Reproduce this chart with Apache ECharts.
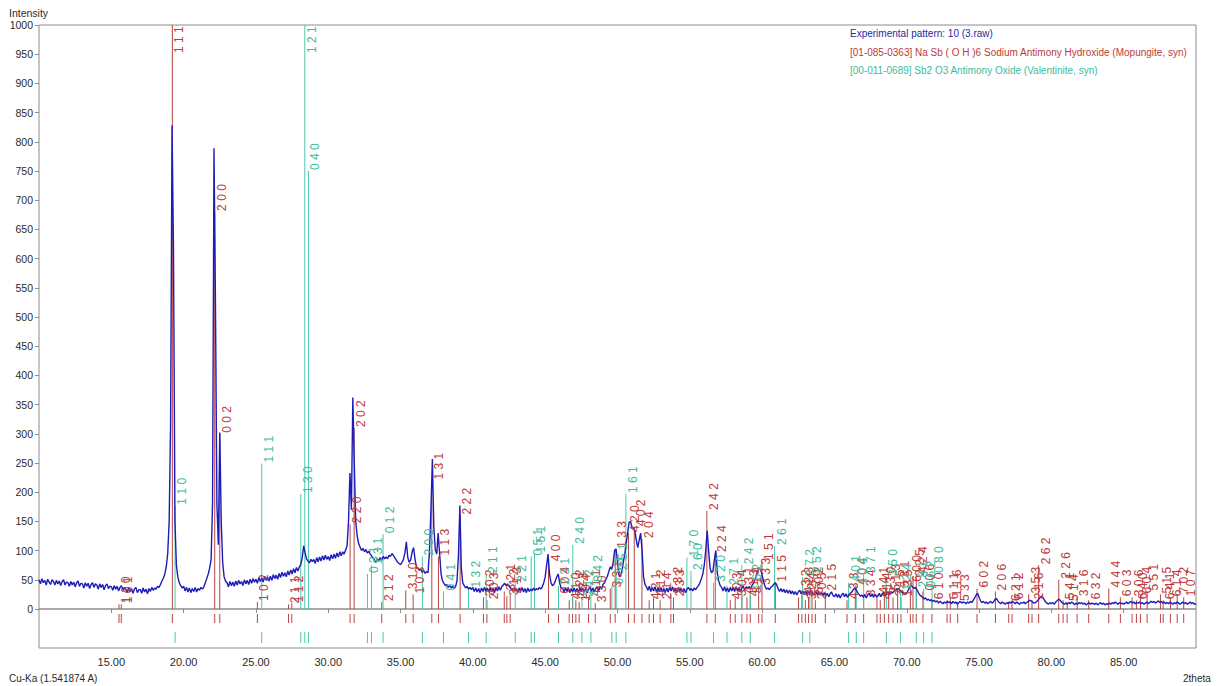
<!DOCTYPE html>
<html>
<head>
<meta charset="utf-8">
<title>XRD pattern</title>
<script src="https://cdn.jsdelivr.net/npm/echarts@6/dist/echarts.min.js"></script>
<style>
  html, body { margin: 0; padding: 0; background: #ffffff; }
  #chart { width: 1221px; height: 686px; }
</style>
</head>
<body>
<div id="chart"></div>
<script>
// Measured scan: 2theta from 10.0 to 90.0 in 0.1 degree steps
const scanStart = 10.0;
const scanStep = 0.1;
const intensity = [
  50,43,52,45,49,41,51,46,42,50,
  47,41,49,43,48,40,47,50,41,46,
  45,39,47,41,46,38,45,48,39,44,
  43,36,45,39,44,35,42,45,37,43,
  41,34,43,37,42,33,40,43,35,39,
  38,32,40,34,39,31,37,40,32,37,
  34,28,36,30,35,27,34,37,28,33,
  33,27,36,29,34,26,35,30,37,32,
  36,34,39,37,42,48,53,60,72,95,
  150,320,828,612,150,75,55,45,40,36,
  39,31,37,29,36,28,35,30,37,29,
  35,32,37,34,38,45,52,60,70,85,
  180,789,528,180,110,302,150,80,55,48,
  45,38,47,40,46,39,48,41,49,43,
  47,40,50,43,49,42,51,44,52,46,
  51,44,54,47,53,46,56,49,55,48,
  56,49,59,52,58,51,61,54,63,56,
  62,55,65,58,67,60,69,62,71,65,
  72,76,88,108,96,86,82,79,85,81,
  85,78,88,81,89,82,91,84,92,85,
  90,83,93,86,94,87,96,89,98,91,
  98,94,101,108,150,233,170,362,250,150,
  125,112,106,100,104,98,102,96,99,94,
  91,87,84,80,86,82,88,84,90,86,
  89,86,92,90,95,92,88,84,80,78,
  76,80,85,96,115,88,80,84,98,105,
  85,72,70,66,68,63,66,61,64,62,
  100,170,257,140,102,94,130,95,60,48,
  44,40,42,37,40,36,39,35,38,48,
  90,177,70,45,40,36,39,34,37,33,
  37,30,36,29,35,28,36,30,37,31,
  36,29,37,30,35,28,37,31,38,32,
  38,41,44,40,43,39,36,33,35,31,
  35,28,36,30,37,29,35,28,36,30,
  34,31,36,32,35,33,37,34,38,45,
  55,75,94,60,45,40,42,48,55,60,
  45,36,35,29,36,30,37,28,35,29,
  36,29,35,28,37,30,36,29,35,28,
  34,38,30,36,29,35,38,31,39,34,
  42,45,50,56,64,72,68,80,100,103,
  80,58,55,65,80,94,112,130,148,150,
  140,138,134,118,105,118,130,100,55,42,
  38,32,39,30,37,31,38,29,36,30,
  37,30,35,28,36,29,37,31,38,30,
  35,28,37,30,36,29,35,28,34,37,
  32,35,31,36,33,37,40,45,52,60,
  75,100,134,100,70,62,65,85,100,62,
  48,40,37,31,38,30,36,29,37,31,
  37,30,38,31,36,29,37,39,32,38,
  35,38,35,40,44,50,58,65,70,68,
  58,47,39,34,36,33,37,39,42,45,
  42,35,30,35,29,34,28,33,27,32,
  26,31,25,30,24,29,32,26,31,25,
  30,25,31,26,32,27,24,30,25,29,
  24,29,23,28,22,27,21,26,29,23,
  21,26,20,25,19,24,27,21,26,20,
  24,27,29,33,36,33,28,25,22,24,
  20,25,19,24,27,21,26,20,25,21,
  22,27,21,26,28,23,27,29,24,30,
  27,30,32,34,35,33,30,28,26,25,
  27,32,37,40,38,35,37,33,28,24,
  22,20,17,19,15,17,14,16,13,15,
  12,14,10,13,11,9,12,10,13,11,
  12,9,13,10,12,8,11,13,10,12,
  11,9,12,10,13,11,15,19,24,27,
  20,14,11,13,10,12,9,11,13,10,
  12,16,18,14,11,9,12,10,8,11,
  9,12,10,13,11,9,12,10,8,11,
  10,12,9,11,13,15,14,12,10,11,
  13,16,19,22,20,16,12,10,8,11,
  9,11,8,12,14,17,15,12,10,8,
  10,8,11,9,12,10,7,10,8,11,
  9,11,8,10,7,9,11,8,10,9,
  8,10,7,9,11,8,10,7,9,8,
  10,8,11,9,12,10,8,11,9,10,
  8,10,12,9,11,13,10,12,9,11,
  10,12,9,11,8,10,12,9,11,13,
  11,13,10,12,14,11,13,10,12,9,
  11,9,12,10,8,11,9,12,10,8,
  10,12,9,11,8,10,12,9,11,8,
  9
];

// [01-085-0363] Na Sb(OH)6, Mopungite: peak positions, scaled intensities, hkl
const mopungitePos = [
  15.53,15.69,19.22,22.15,22.50,25.10,27.25,27.48,31.51,31.79,
  33.70,35.36,35.87,37.16,37.62,39.12,40.73,40.97,42.17,42.35,
  42.58,45.23,45.92,46.66,46.89,47.12,47.35,48.00,48.46,49.50,
  49.84,50.76,51.16,51.69,52.19,52.49,52.95,53.69,53.87,56.18,
  56.76,57.80,58.14,58.60,58.95,59.18,59.76,59.99,60.91,62.52,
  62.75,62.99,63.21,63.45,63.68,64.37,65.87,66.44,67.02,67.94,
  68.17,68.45,68.75,69.05,69.37,69.60,70.25,70.43,70.66,71.12,
  71.74,72.79,73.01,73.52,74.86,76.13,77.05,77.28,78.43,78.66,
  79.12,80.51,80.81,81.09,81.78,82.58,83.97,84.77,85.58,85.88,
  86.16,86.62,87.54,87.73,88.23,88.70,89.15
];
const mopungiteInt = [
  8,8,1000,680,300,12,8,10,145,310,
  12,32,25,220,90,160,20,15,30,22,
  25,80,25,15,20,15,12,20,10,35,
  103,130,140,120,15,20,15,25,20,168,
  96,15,20,25,20,25,40,82,45,20,
  25,15,20,25,15,30,15,40,20,25,
  15,25,30,20,35,20,45,55,60,30,
  15,15,20,12,35,30,12,15,25,15,
  75,50,15,12,20,15,35,20,20,15,
  25,30,25,15,20,25,20
];
const mopungiteHkl = [
  '110','101','111','200','002','102','211','112','220','202',
  '212','310','103','131','113','222','302','203','321','312',
  '213','400','004','410','322','223','104','411','330','331',
  '133','420','402','204','421','412','214','332','233','242',
  '224','403','304','431','413','314','333','151','115','432',
  '423','324','520','502','205','215','433','404','334','441',
  '414','530','513','315','531','135','600','225','424','006',
  '610','611','116','533','602','206','621','612','353','216',
  '262','226','541','514','316','632','444','603','306','640',
  '604','551','515','641','614','702','107'
];

// [00-011-0689] Sb2 O3, Valentinite: peak positions, scaled intensities, hkl
const valentinitePos = [
  19.41,25.40,28.10,28.38,28.63,32.71,32.99,33.79,36.51,37.97,
  39.70,40.92,42.93,44.03,44.26,45.92,46.91,47.54,48.16,49.61,
  49.91,50.58,54.80,55.08,56.64,57.57,58.60,59.18,60.86,62.80,
  63.30,65.98,66.51,67.02,68.59,69.56,70.66,71.17,71.75
];
const valentiniteInt = [
  177,249,197,1000,750,60,75,128,90,30,
  35,60,45,90,95,40,110,20,45,40,
  65,197,88,65,45,40,75,30,108,55,
  60,45,40,60,55,30,35,35,60
];
const valentiniteHkl = [
  '110','111','130','121','040','031','131','012','200','041',
  '132','211','221','051','151','231','240','212','042','033',
  '251','161','170','260','320','271','242','162','261','272',
  '252','401','104','371','350','124','281','062','080'
];

// 2theta tick values shown under the frame
const twoThetaTicks = [15, 20, 25, 30, 35, 40, 45, 50, 55, 60, 65, 70, 75, 80, 85];

const COLORS = {
  pattern: '#1c1cb8',
  mop: '#b84444',
  mopText: '#c03a3a',
  val: '#48c8ac',
  valText: '#3cbc9c',
  frame: '#8c8c8c',
  axisText: '#2a2a2a'
};
const FONT = '"Liberation Sans", "DejaVu Sans", Arial, sans-serif';

const patternData = intensity.map((v, i) => [+(scanStart + i * scanStep).toFixed(2), v]);
const mopData = mopungitePos.map((x, i) => [x, mopungiteInt[i]]);
const valData = valentinitePos.map((x, i) => [x, valentiniteInt[i]]);

// vertical reference stick from the baseline to the tabulated intensity
function stickItem(color) {
  return function (params, api) {
    const base = api.coord([api.value(0), 0]);
    const tip = api.coord([api.value(0), api.value(1)]);
    return {
      type: 'line',
      shape: { x1: base[0], y1: base[1], x2: tip[0], y2: tip[1] },
      style: { stroke: color, lineWidth: 1 }
    };
  };
}

// hkl label, rotated, sitting just right of the stick tip (kept inside the frame)
function hklItem(color, hkl) {
  return function (params, api) {
    const tip = api.coord([api.value(0), api.value(1)]);
    const frameTop = params.coordSys.y;
    const y = Math.max(tip[1] - 1, frameTop + 28);
    return {
      type: 'text',
      x: tip[0] + 7,
      y: y,
      rotation: Math.PI / 2,
      style: {
        text: hkl[params.dataIndex].split('').join(' '),
        fill: color,
        font: '12px ' + FONT,
        textAlign: 'left',
        align: 'left',
        textVerticalAlign: 'middle',
        verticalAlign: 'middle'
      }
    };
  };
}

// short marker in the lower strip (rows given in strip units, 0 = top)
function stripItem(color, r0, r1) {
  return function (params, api) {
    const a = api.coord([api.value(0), r0]);
    const b = api.coord([api.value(0), r1]);
    return {
      type: 'line',
      shape: { x1: a[0], y1: a[1], x2: b[0], y2: b[1] },
      style: { stroke: color, lineWidth: 1 }
    };
  };
}

const chart = echarts.init(document.getElementById('chart'), null, { renderer: 'svg' });

chart.setOption({
  animation: false,
  backgroundColor: '#ffffff',
  grid: [
    { left: 39, right: 25, top: 25, height: 584, show: true, borderColor: COLORS.frame, borderWidth: 1, backgroundColor: 'transparent' },
    { left: 39, right: 25, top: 609, height: 39, show: true, borderColor: COLORS.frame, borderWidth: 1, backgroundColor: 'transparent' }
  ],
  xAxis: [
    { gridIndex: 0, type: 'value', min: 10, max: 90, show: false },
    {
      gridIndex: 1, type: 'value', min: 10, max: 90, interval: 5,
      axisLine: { show: false },
      axisTick: { show: true, inside: false, length: 4, lineStyle: { color: COLORS.frame }, customValues: twoThetaTicks },
      axisLabel: {
        show: true, margin: 8, fontSize: 11, fontFamily: FONT, color: COLORS.axisText,
        customValues: twoThetaTicks,
        formatter: v => v.toFixed(2)
      },
      splitLine: { show: false }
    }
  ],
  yAxis: [
    {
      gridIndex: 0, type: 'value', min: 0, max: 1000, interval: 50,
      axisLine: { show: false },
      axisTick: { show: true, inside: false, length: 4, lineStyle: { color: COLORS.frame } },
      axisLabel: { show: true, margin: 6, fontSize: 10.5, fontFamily: FONT, color: COLORS.axisText, formatter: v => String(v) },
      splitLine: { show: false }
    },
    { gridIndex: 1, type: 'value', min: 0, max: 39, inverse: true, show: false }
  ],
  graphic: [
    { type: 'text', left: 9, top: 7, style: { text: 'Intensity', font: '10.5px ' + FONT, fill: COLORS.axisText } },
    { type: 'text', left: 850, top: 28, style: { text: 'Experimental pattern: 10 (3.raw)', font: '10px ' + FONT, fill: '#2a2aa0' } },
    { type: 'text', left: 850, top: 47, style: { text: '[01-085-0363] Na Sb ( O H )6 Sodium Antimony Hydroxide (Mopungite, syn)', font: '10px ' + FONT, fill: COLORS.mopText } },
    { type: 'text', left: 850, top: 65, style: { text: '[00-011-0689] Sb2 O3 Antimony Oxide (Valentinite, syn)', font: '10px ' + FONT, fill: COLORS.valText } },
    { type: 'text', left: 9, top: 673, style: { text: 'Cu-Ka (1.541874 A)', font: '10px ' + FONT, fill: COLORS.axisText } },
    { type: 'text', left: 1183, top: 673, style: { text: '2theta', font: '10px ' + FONT, fill: COLORS.axisText } }
  ],
  series: [
    { name: 'Mopungite sticks', type: 'custom', xAxisIndex: 0, yAxisIndex: 0, z: 2, renderItem: stickItem(COLORS.mop), data: mopData, encode: { x: 0, y: 1 } },
    { name: 'Valentinite sticks', type: 'custom', xAxisIndex: 0, yAxisIndex: 0, z: 2, renderItem: stickItem(COLORS.val), data: valData, encode: { x: 0, y: 1 } },
    {
      name: 'Experimental pattern', type: 'line', xAxisIndex: 0, yAxisIndex: 0, z: 3,
      data: patternData, showSymbol: false, symbol: 'none',
      lineStyle: { color: COLORS.pattern, width: 1.4 }
    },
    { name: 'Mopungite hkl', type: 'custom', xAxisIndex: 0, yAxisIndex: 0, z: 4, renderItem: hklItem(COLORS.mopText, mopungiteHkl), data: mopData, encode: { x: 0, y: 1 } },
    { name: 'Valentinite hkl', type: 'custom', xAxisIndex: 0, yAxisIndex: 0, z: 4, renderItem: hklItem(COLORS.valText, valentiniteHkl), data: valData, encode: { x: 0, y: 1 } },
    { name: 'Mopungite markers', type: 'custom', xAxisIndex: 1, yAxisIndex: 1, z: 2, renderItem: stripItem(COLORS.mop, 5, 14), data: mopData, encode: { x: 0 } },
    { name: 'Valentinite markers', type: 'custom', xAxisIndex: 1, yAxisIndex: 1, z: 2, renderItem: stripItem(COLORS.val, 23, 34), data: valData, encode: { x: 0 } }
  ]
});
</script>
</body>
</html>
